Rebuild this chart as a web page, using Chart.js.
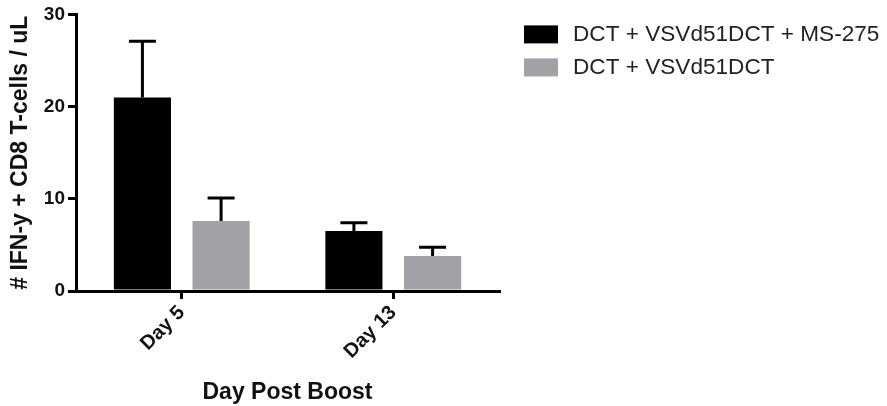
<!DOCTYPE html>
<html>
<head>
<meta charset="utf-8">
<script src="https://cdn.jsdelivr.net/npm/chart.js@4.4.1/dist/chart.umd.min.js"></script>
<style>
  html, body { margin: 0; padding: 0; background: #fff; }
  #wrap { width: 887px; height: 406px; position: relative; }
</style>
</head>
<body>
<div id="wrap"><canvas id="myChart"></canvas></div>
<script>
var categories = ["Day 5", "Day 13"];
var seriesLabels = ["DCT + VSVd51DCT + MS-275", "DCT + VSVd51DCT"];
var msValues = [21.0, 6.5];
var msErrors = [6.1, 0.9];
var vsvValues = [7.6, 3.8];
var vsvErrors = [2.5, 0.95];
var yTicks = [0, 10, 20, 30];

var FONT = "'Liberation Sans', Arial, sans-serif";

// draws the upward SEM whiskers on top of each bar
var errorBars = {
  id: "errorBars",
  afterDatasetsDraw: function (chart) {
    var ctx = chart.ctx;
    var yScale = chart.scales.y;
    chart.data.datasets.forEach(function (ds, i) {
      var meta = chart.getDatasetMeta(i);
      meta.data.forEach(function (bar, j) {
        var top = yScale.getPixelForValue(ds.data[j] + ds.errors[j]);
        var base = yScale.getPixelForValue(ds.data[j]);
        ctx.save();
        ctx.strokeStyle = "#000";
        ctx.lineWidth = 3;
        ctx.beginPath();
        ctx.moveTo(bar.x, base);
        ctx.lineTo(bar.x, top);
        ctx.moveTo(bar.x - 13.5, top);
        ctx.lineTo(bar.x + 13.5, top);
        ctx.stroke();
        ctx.restore();
      });
    });
  },
};

// legend to the right of the plot, top aligned (built-in one is capped in width)
var sideLegend = {
  id: "sideLegend",
  afterDraw: function (chart) {
    var ctx = chart.ctx;
    var area = chart.chartArea;
    var x = area.right + 25;
    ctx.save();
    ctx.font = "22.6px " + FONT;
    ctx.textBaseline = "middle";
    chart.data.datasets.forEach(function (ds, i) {
      var y = area.top + 11 + i * 33;
      ctx.fillStyle = ds.backgroundColor;
      ctx.fillRect(x, y, 34, 18);
      ctx.fillStyle = "#222";
      ctx.fillText(ds.label, x + 49, y + 9);
    });
    ctx.restore();
  },
};

var data = {
  labels: categories,
  datasets: [
    {
      label: seriesLabels[0],
      data: msValues,
      errors: msErrors,
      backgroundColor: "#000000",
      borderWidth: 0,
    },
    {
      label: seriesLabels[1],
      data: vsvValues,
      errors: vsvErrors,
      backgroundColor: "#a1a1a6",
      borderWidth: 0,
    },
  ],
};

var options = {
  responsive: true,
  maintainAspectRatio: false,
  animation: false,
  devicePixelRatio: 1,
  categoryPercentage: 0.744,
  barPercentage: 0.726,
  layout: { padding: { top: 11, left: 0, bottom: 0, right: 388 } },
  plugins: {
    legend: { display: false },
    tooltip: { enabled: false },
  },
  scales: {
    x: {
      ticks: {
        maxRotation: 45,
        minRotation: 45,
        padding: 2,
        color: "#111",
        font: { family: FONT, size: 20, weight: "bold" },
      },
      grid: { drawOnChartArea: false, offset: false, tickLength: 8, color: "#000", lineWidth: 3 },
      border: { color: "#000", width: 3 },
      title: {
        display: true,
        text: "Day Post Boost",
        color: "#111",
        font: { family: FONT, size: 23, weight: "bold" },
        padding: { top: 0, bottom: 0 },
      },
      afterFit: function (s) { s.height = 115; },
    },
    y: {
      min: yTicks[0],
      max: yTicks[yTicks.length - 1],
      afterBuildTicks: function (s) {
        s.ticks = yTicks.map(function (v) { return { value: v }; });
      },
      ticks: {
        padding: 3,
        color: "#111",
        font: { family: FONT, size: 19, weight: "bold" },
      },
      grid: { drawOnChartArea: false, tickLength: 8, color: "#000", lineWidth: 3 },
      border: { color: "#000", width: 3 },
      title: {
        display: true,
        text: "# IFN-y + CD8 T-cells / uL",
        color: "#111",
        font: { family: FONT, size: 23, weight: "bold" },
        padding: { top: 7, bottom: 0 },
      },
      afterFit: function (s) { s.width = 76; },
    },
  },
};

var ctx = document.getElementById("myChart").getContext("2d");
var myChart = new Chart(ctx, {
  type: "bar",
  data: data,
  options: options,
  plugins: [errorBars, sideLegend],
});
</script>
</body>
</html>
